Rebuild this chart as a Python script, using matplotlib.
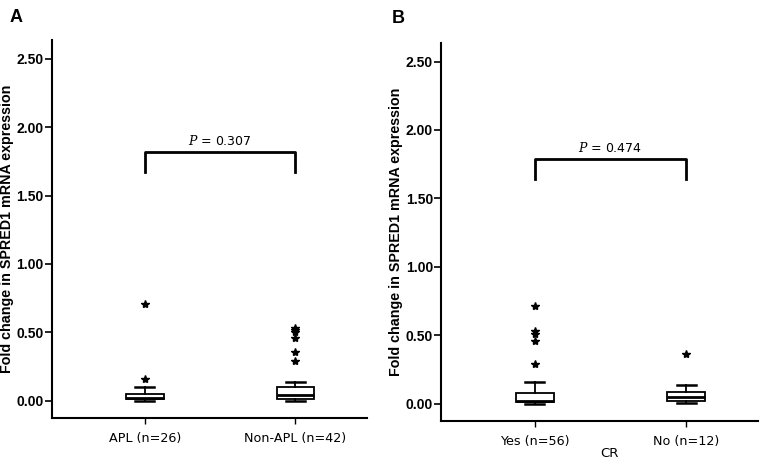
import matplotlib.pyplot as plt
import matplotlib.transforms as mtransforms
import numpy as np

plt.rcParams['font.family'] = ['Liberation Sans', 'DejaVu Sans']
plt.rcParams['mathtext.fontset'] = 'dejavuserif'

ylabel = "Fold change in SPRED1 mRNA expression"
yticks = [0.0, 0.5, 1.0, 1.5, 2.0, 2.5]

# panel A: APL vs non-APL
labels_a = ["APL (n=26)", "Non-APL (n=42)"]
# whislo, q1, med, q3, whishi
stats_a = [[0.0, 0.01, 0.02, 0.05, 0.10],
           [0.0, 0.015, 0.045, 0.10, 0.14]]
fliers_a = [[0.71, 0.16],
            [0.53, 0.515, 0.50, 0.46, 0.36, 0.29]]
p_a = "0.307"
bracket_a = [1.82, 1.67]

# panel B: CR yes vs no
labels_b = ["Yes (n=56)", "No (n=12)"]
stats_b = [[0.0, 0.01, 0.02, 0.08, 0.155],
           [0.005, 0.02, 0.045, 0.085, 0.135]]
fliers_b = [[0.71, 0.53, 0.51, 0.46, 0.29],
            [0.365]]
p_b = "0.474"
bracket_b = [1.79, 1.64]


def panel(ax, labels, stats, fliers, p, bracket, shift):
    bx = []
    for s, f, l in zip(stats, fliers, labels):
        bx.append(dict(whislo=s[0], q1=s[1], med=s[2], q3=s[3], whishi=s[4],
                       fliers=f, label=l))
    ax.bxp(bx, positions=[1, 2], widths=0.25, patch_artist=True,
           boxprops=dict(facecolor='white', edgecolor='black', linewidth=1.3),
           medianprops=dict(color='black', linewidth=2),
           whiskerprops=dict(color='black', linewidth=1.3),
           capprops=dict(color='black', linewidth=1.8),
           flierprops=dict(marker='*', markerfacecolor='black',
                           markeredgecolor='black', markersize=6, linestyle='none'))
    ax.set_xlim(0.384, 2.475)
    ax.set_ylim(-0.127, 2.637)
    ax.set_yticks(yticks)
    ax.set_yticklabels(["%.2f" % v for v in yticks], fontweight='bold', fontsize=10)
    ax.set_xticklabels(labels, fontsize=9.2, fontfamily='DejaVu Sans')
    # the x labels sit a bit right of their ticks in the original
    off = mtransforms.ScaledTranslation(shift, 0, ax.figure.dpi_scale_trans)
    for t in ax.get_xticklabels():
        t.set_transform(t.get_transform() + off)
    ax.set_ylabel(ylabel, fontweight='bold', fontsize=10.3, labelpad=2)
    for pos in ['right', 'top']:
        ax.spines[pos].set_visible(False)
    for pos in ['left', 'bottom']:
        ax.spines[pos].set_linewidth(1.5)
    ax.tick_params(axis='y', direction='out', length=5, width=1.2, pad=1)
    ax.tick_params(axis='x', direction='out', length=4, width=1.0, pad=6)
    ax.plot([1, 1, 2, 2], [bracket[1], bracket[0], bracket[0], bracket[1]],
            color='black', linewidth=2)
    ax.text(1.5, bracket[0] + 0.03, "$P$ = " + p, ha='center', va='bottom',
            fontsize=9, fontfamily='DejaVu Sans')


fig = plt.figure(figsize=(7.66, 4.61), dpi=100)
ax1 = fig.add_axes([0.068, 0.093, 0.411, 0.82])
ax2 = fig.add_axes([0.576, 0.087, 0.414, 0.82])
panel(ax1, labels_a, stats_a, fliers_a, p_a, bracket_a, 0.15)
panel(ax2, labels_b, stats_b, fliers_b, p_b, bracket_b, 0.07)
ax2.set_xlabel("CR", fontsize=9.5, fontfamily='DejaVu Sans')
ax2.xaxis.set_label_coords(0.53, -0.07)

fig.text(0.013, 0.963, "A", fontweight='bold', fontsize=13, va='center')
fig.text(0.512, 0.96, "B", fontweight='bold', fontsize=13, va='center')

fig.savefig("out.png", dpi=100)
